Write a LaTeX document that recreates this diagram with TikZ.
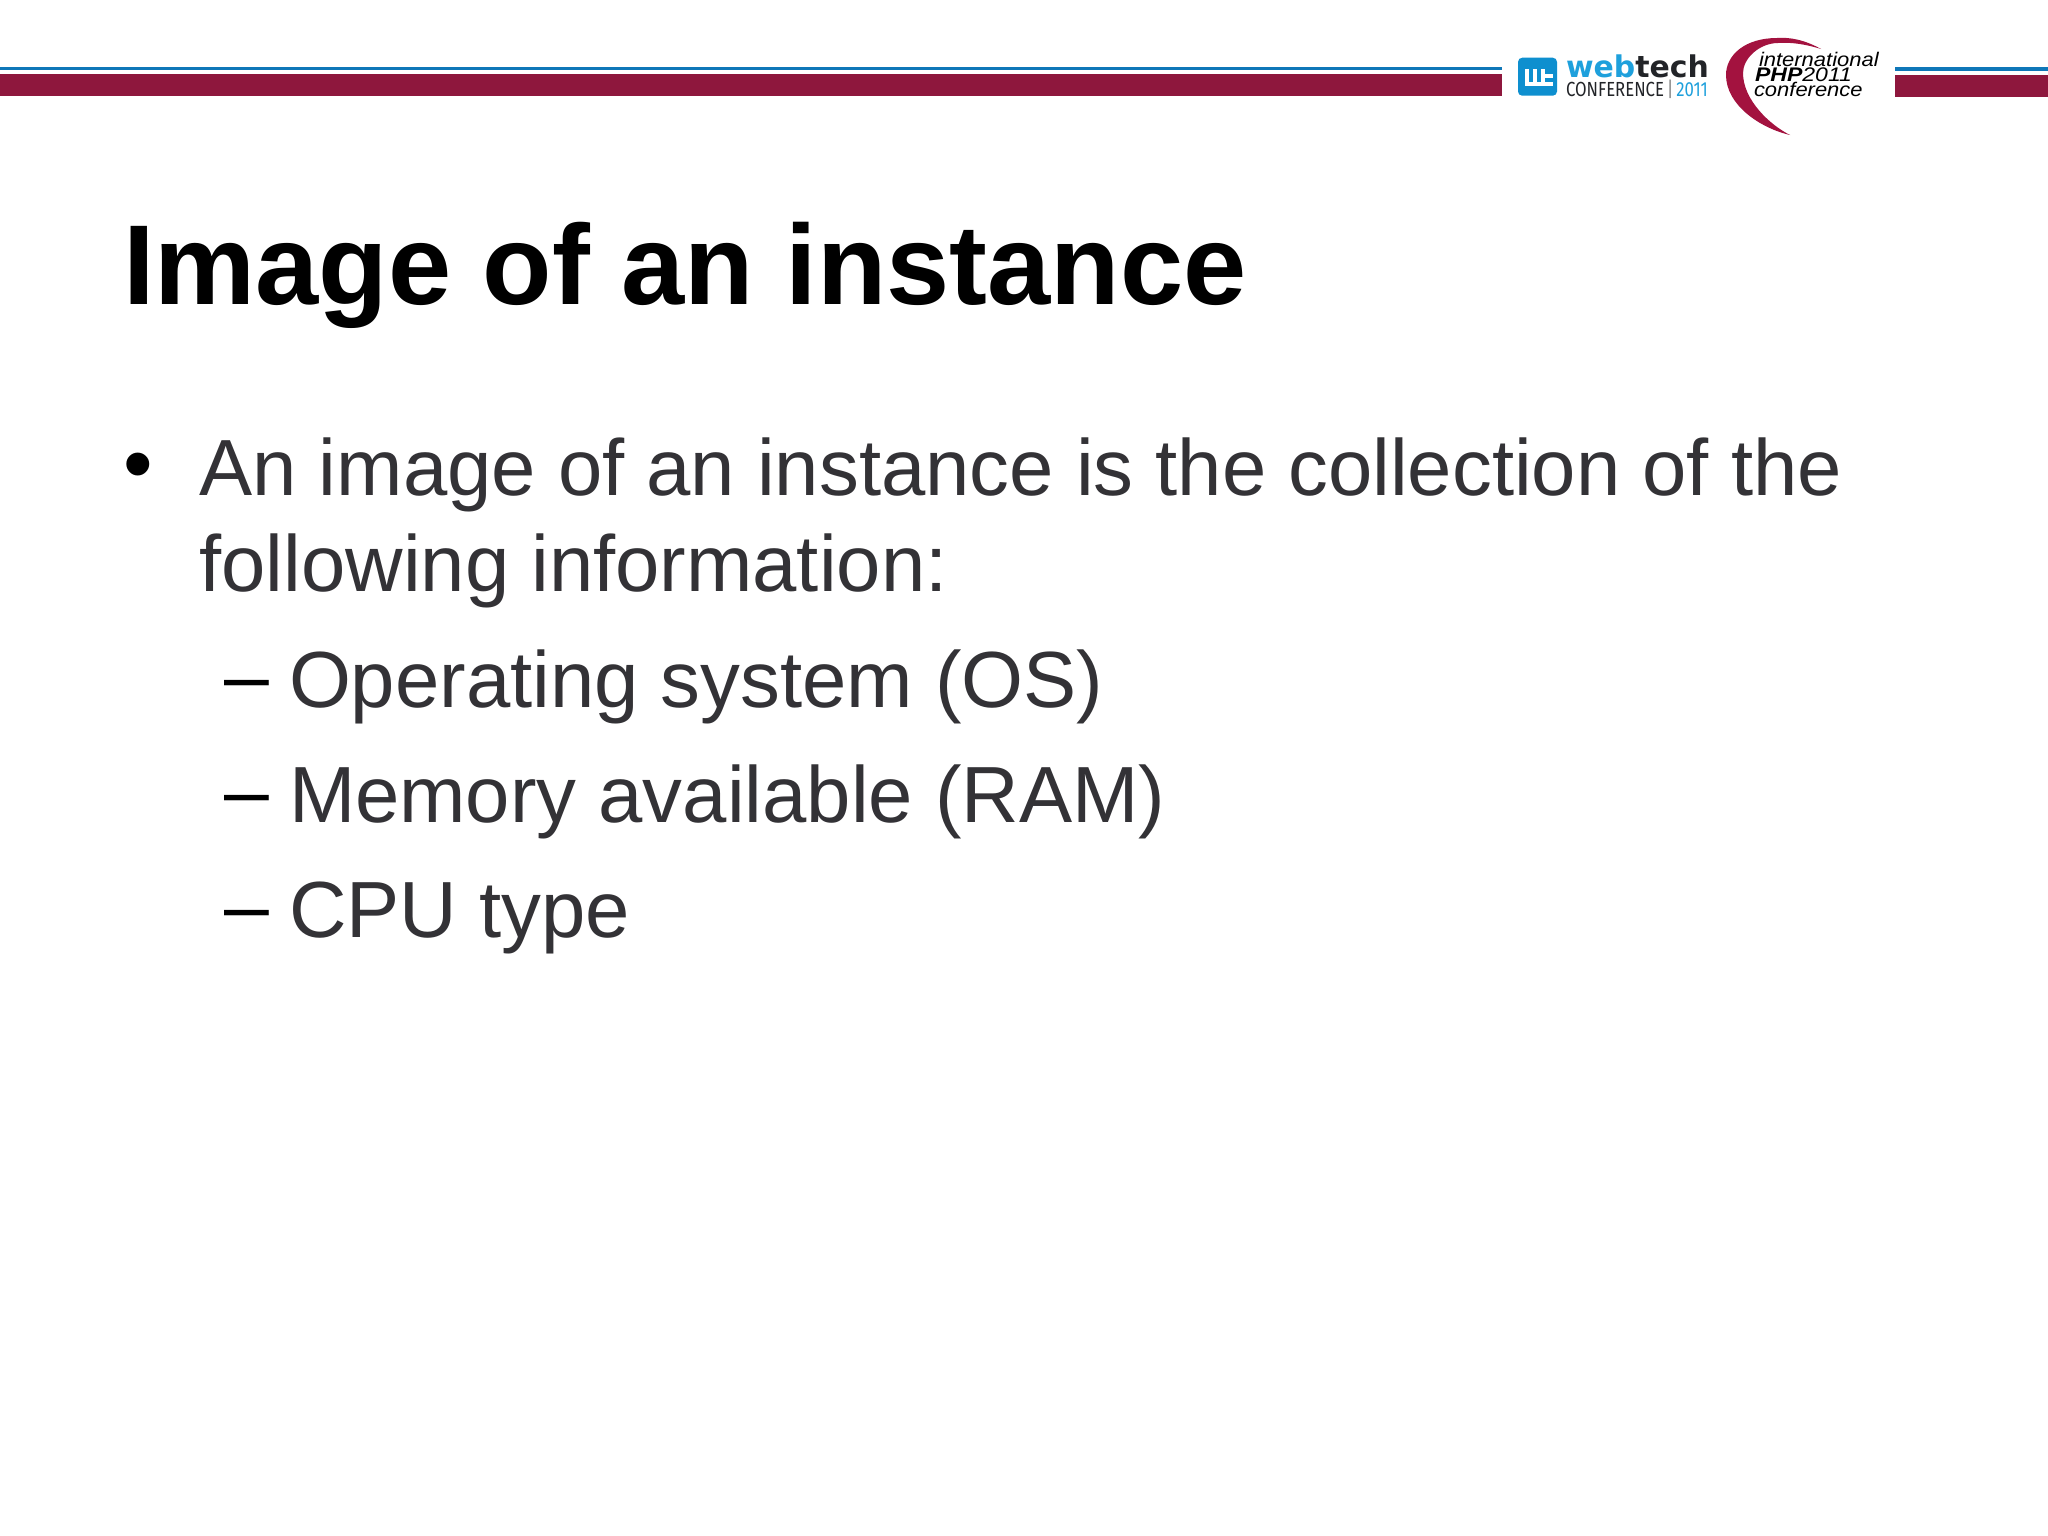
\documentclass[tikz,border=0pt]{standalone}
\usepackage{fontspec}
\setmainfont{Liberation Sans}
\newfontfamily\logofont{Fira Sans}
\newfontfamily\wtfont{DejaVu Sans}
\definecolor{barred}{HTML}{8E173D}
\definecolor{barblue}{HTML}{0F77B8}
\definecolor{bodygrey}{HTML}{333236}
\definecolor{wtblue}{HTML}{0E8FCF}
\definecolor{wtcyan}{HTML}{1EA0DC}
\definecolor{wtdark}{HTML}{222428}
\definecolor{crescent}{HTML}{A3123F}
\tikzset{
  every node/.style={inner sep=0pt,outer sep=0pt,anchor=base west},
  title/.style={font=\fontsize{32.3pt}{38pt}\selectfont\bfseries,text=black},
  lvlone/.style={font=\fontsize{22.65pt}{27pt}\selectfont,text=bodygrey},
  lvltwo/.style={font=\fontsize{22.65pt}{27pt}\selectfont,text=bodygrey},
  bulletmark/.style={font=\fontsize{24pt}{27pt}\selectfont,text=black},
  dashmark/.style={font=\fontsize{22.9pt}{27pt}\selectfont,text=black},
  logoa/.style={font=\wtfont\bfseries\fontsize{8.5pt}{9pt}\selectfont},
  logob/.style={font=\logofont\fontsize{5.8pt}{6pt}\selectfont},
  logoc/.style={font=\itshape\fontsize{5.6pt}{6pt}\selectfont,text=black},
}
\begin{document}
\begin{tikzpicture}[x=0.01cm,y=-0.01cm]
\useasboundingbox (0,0) rectangle (2048,1536);
\fill[white] (0,0) rectangle (2048,1536);
% header bars
\fill[barblue] (0,66.5) rectangle (1502,70);
\fill[barred] (0,74) rectangle (1502,96);
\fill[barblue] (1895,67) rectangle (2048,70.5);
\fill[barred] (1895,74.5) rectangle (2048,96.5);
% webtech logo
\fill[wtblue,rounded corners=1.2pt] (1518,57.7) rectangle (1557,95.7);
\draw[white,line width=1.2pt,line join=miter] (1527.3,69) -- (1527.3,84.3) -- (1552.7,84.3)
  (1535.3,69) -- (1535.3,84.3) (1543.3,69) -- (1543.3,84.3) (1543.3,75.7) -- (1552.7,75.7);
\node[logoa,text=wtcyan] (web) at (1566,77) {web\textcolor{wtdark}{tech}};
\node[logob,text=wtdark] (conf) at (1566,96) {\scalebox{0.82}[1]{CONFERENCE\,\textcolor{gray}{|}\,\textcolor{wtcyan}{2011}}};
% php logo crescent
\fill[crescent] (1821,49) .. controls (1805,40) and (1790,37) .. (1777,38)
  .. controls (1745,38) and (1726,55) .. (1726,75)
  .. controls (1726,105) and (1760,128) .. (1790,135)
  .. controls (1770,125) and (1743,100) .. (1743,73)
  .. controls (1743,58) and (1760,43) .. (1778,43)
  .. controls (1790,42) and (1805,44) .. (1821,49) -- cycle;
\node[logoc] (intl) at (1759,66.7) {\scalebox{1.115}[1]{international}};
\node[logoc] (php) at (1755,81.7) {\scalebox{1.17}[1]{\textbf{PHP}2011}};
\node[logoc] (phpc) at (1754,96.7) {\scalebox{1.115}[1]{conference}};
% text
\node[title] (head) at (123,304) {Image of an instance};
\node[bulletmark] (b1) at (123,492) {•};
\node[lvlone] (l1) at (199.5,495) {An image of an instance is the collection of the};
\node[lvlone] (l2) at (199.5,591) {following information:};
\node[dashmark] (d1) at (224,703.5) {–};
\node[lvltwo] (s1) at (289,707) {Operating system (OS)};
\node[dashmark] (d2) at (224,818.5) {–};
\node[lvltwo] (s2) at (289,822) {Memory available (RAM)};
\node[dashmark] (d3) at (224,933.5) {–};
\node[lvltwo] (s3) at (289,937) {CPU type};
\end{tikzpicture}
\end{document}
